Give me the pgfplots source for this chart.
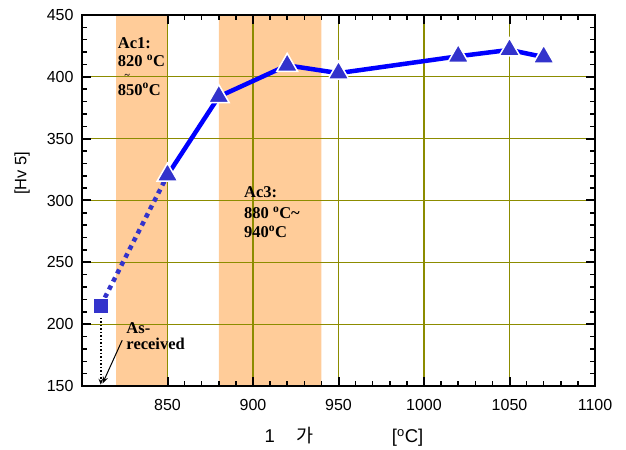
\documentclass[border=0pt]{standalone}
\usepackage{fontspec}
\setmainfont{Liberation Sans}
\newfontfamily\tnr{Liberation Serif}
\newfontfamily\kr{Noto Sans CJK KR}
\usepackage{pgfplots}
\pgfplotsset{compat=1.18}
\usetikzlibrary{arrows.meta}
\definecolor{band}{HTML}{FFCC99}
\definecolor{gridc}{RGB}{140,140,0}
\definecolor{mk}{RGB}{51,51,204}
\definecolor{ln}{RGB}{0,0,255}
\begin{document}
\begin{tikzpicture}
\begin{axis}[
  set layers,
  scale only axis, width=513pt, height=371pt,
  xmin=800, xmax=1100, ymin=150, ymax=450,
  xtick={850,900,...,1100}, ytick={150,200,...,450},
  minor x tick num=4, minor y tick num=4,
  tick align=inside,
  major tick length=9pt, minor tick length=5pt,
  major tick style={line width=2pt, black},
  minor tick style={line width=1.5pt, black},
  grid=major, major grid style={gridc, line width=1.3pt},
  /pgf/number format/assume math mode=true,
  /pgf/number format/set thousands separator={},
  tick label style={font=\fontsize{16}{16}\selectfont},
  xticklabel style={yshift=-10pt},
  yticklabel style={xshift=-5pt},
  ylabel={[Hv 5]},
  ylabel style={at={(axis description cs:0,0.574)}, anchor=center, yshift=60pt, font=\fontsize{16.5}{16.5}\selectfont},
  xlabel={1\hspace{22pt}{\kr 가}\hspace{78pt}[\textsuperscript{o}C]},
  xlabel style={at={(axis description cs:0.5,0)}, anchor=center, yshift=-51pt, xshift=5.5pt, font=\fontsize{18.5}{18.5}\selectfont},
  clip=false,
]
\addplot[draw=none, fill=band, on layer=axis background] coordinates {(820,150) (820,450) (850,450) (850,150)} \closedcycle;
\addplot[draw=none, fill=band, on layer=axis background] coordinates {(880,150) (880,450) (940,450) (940,150)} \closedcycle;

\addplot[mk, line width=4.5pt, dash pattern=on 4.5pt off 4.5pt, no marks] coordinates {(811,215) (850,320.5)};
\addplot[ln, line width=4.5pt, mark=triangle*, mark size=12pt,
  mark options={fill=mk, draw=white, line width=1.5pt, solid}]
  coordinates {(850,320.5) (880,384) (920,409.3) (950,403) (1020,416.6) (1050,421.8) (1070,416)};
\addplot[only marks, mark=square*, mark size=7.5pt, mark options={fill=mk, draw=white, line width=1pt}] coordinates {(811,215)};

\draw[dotted, line width=1.5pt, -{Stealth[length=6pt]}] (axis cs:811,205) -- (axis cs:811,151);
\draw[line width=1pt, -{Stealth[length=7pt]}] (axis cs:823.5,187) -- (axis cs:812,152);
\draw[line width=2.5pt, line cap=rect] (rel axis cs:0,0) rectangle (rel axis cs:1,1);

\begin{scope}[every node/.style={anchor=base west, inner sep=0pt, font=\tnr\bfseries\fontsize{16.5}{16.5}\selectfont}]
\node at (axis cs:820.9,423) {Ac1:};
\node at (axis cs:820.9,408.3) {820 \textsuperscript{o}C};
\node at (axis cs:820.9,385.3) {850\textsuperscript{o}C};
\node at (axis cs:894.7,302.3) {Ac3:};
\node at (axis cs:894.7,285.3) {880 \textsuperscript{o}C\textasciitilde};
\node at (axis cs:894.7,270) {940\textsuperscript{o}C};
\node at (axis cs:825.9,192.4) {As-};
\node at (axis cs:825.9,179.7) {received};
\end{scope}
\node[anchor=center, inner sep=0pt, font=\tnr\bfseries\fontsize{10}{10}\selectfont] at (axis cs:826.5,400.7) {\textasciitilde};
\end{axis}
\path (current axis.south west) ++(-82pt,-62pt) rectangle ++(626pt,448pt);
\end{tikzpicture}
\end{document}
